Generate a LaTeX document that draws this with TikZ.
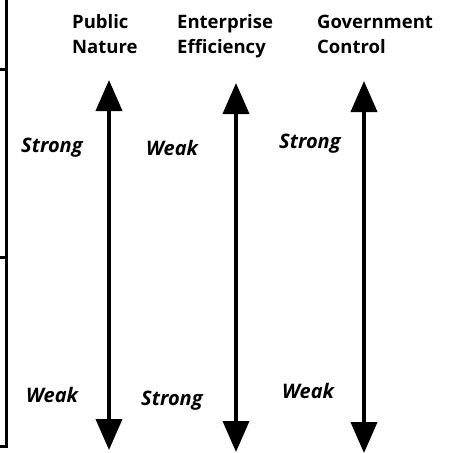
\documentclass[tikz,border=0pt]{standalone}
\usepackage{fontspec}
\setmainfont{Open Sans}
\usetikzlibrary{arrows.meta}
\begin{document}
\begin{tikzpicture}[x=1pt,y=-1pt,
  heading/.style={anchor=base west,inner sep=0pt,align=left,
    font=\fontsize{18.5}{25}\selectfont\bfseries},
  strength/.style={anchor=base west,inner sep=0pt,
    font=\fontsize{20}{22}\selectfont\bfseries\itshape},
  scale arrow/.style={line width=4pt,
    {Triangle[length=31pt,width=26pt]}-{Triangle[length=31pt,width=26pt]}},
  frame line/.style={line width=3pt}]
\useasboundingbox (0,0) rectangle (448,453);

% left margin rule with its ticks
\coordinate (rt) at (6,0);
\coordinate (rb) at (6,446);
\coordinate (t1) at (0,69);
\coordinate (t1e) at (6,69);
\coordinate (t2) at (0,257);
\coordinate (t2e) at (6,257);
\coordinate (t3) at (0,446);
\draw[frame line] (rt) -- (rb) -- (t3);
\draw[frame line] (t1) -- (t1e);
\draw[frame line] (t2) -- (t2e);

% column headings (anchored on the baseline of their second line)
\node[heading] (h1) at (72,53) {Public\\Nature};
\node[heading] (h2) at (177,53) {Enterprise\\Efficiency};
\node[heading] (h3) at (317,53) {Government\\Control};

% double-headed scales
\coordinate (a1t) at (109,80);
\coordinate (a1b) at (109,450);
\coordinate (a2t) at (236,83);
\coordinate (a2b) at (236,452);
\coordinate (a3t) at (364,81);
\coordinate (a3b) at (364,453);
\draw[scale arrow] (a1b) -- (a1t);
\draw[scale arrow] (a2b) -- (a2t);
\draw[scale arrow] (a3b) -- (a3t);

% upper labels
\node[strength] (s1) at (21,152) {Strong};
\node[strength] (s2) at (146,155) {Weak};
\node[strength] (s3) at (279,148) {Strong};

% lower labels
\node[strength] (w1) at (26,402) {Weak};
\node[strength] (w2) at (141,405) {Strong};
\node[strength] (w3) at (282,398) {Weak};
\end{tikzpicture}
\end{document}
